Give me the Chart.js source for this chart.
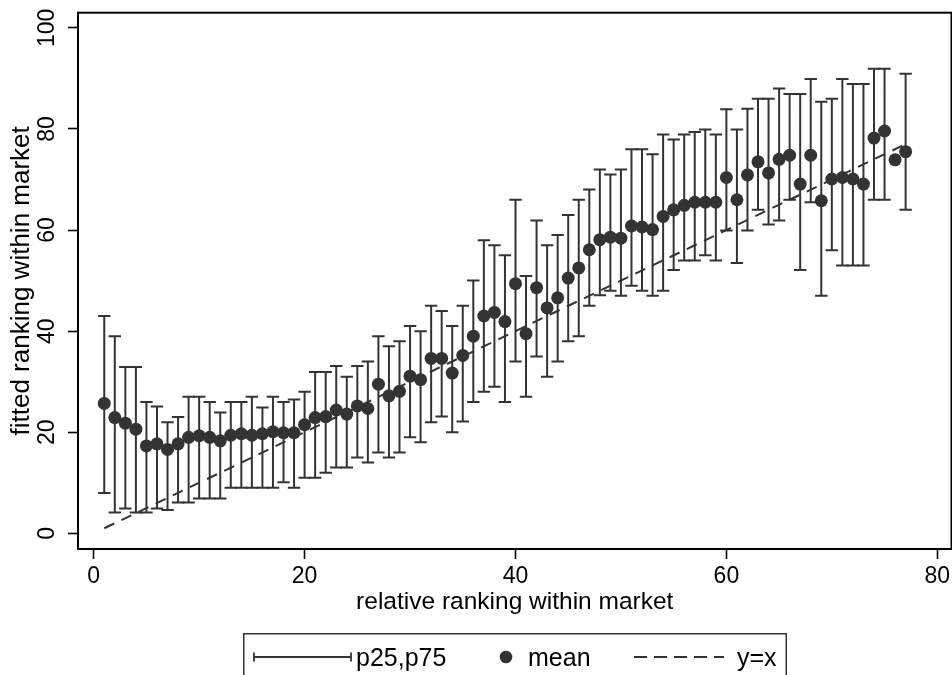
<!DOCTYPE html>
<html>
<head>
<meta charset="utf-8">
<script src="https://cdn.jsdelivr.net/npm/chart.js@4.4.0/dist/chart.umd.min.js"></script>
<style>
  html, body { margin: 0; padding: 0; background: #fff; overflow: hidden; }
  #wrap { position: relative; width: 952px; height: 675px; }
  #legend { position: absolute; left: 243px; top: 633px; width: 544px; height: 60px;
            font-family: 'Liberation Sans', Arial, Helvetica, sans-serif; font-size: 25px; color: #000; }
  #legend svg { position: absolute; left: 0; top: 0; }
  #legend span { position: absolute; top: 12px; line-height: 25px; white-space: nowrap; }
</style>
</head>
<body>
<div id="wrap">
  <canvas id="chart" width="952" height="675"></canvas>
  <div id="legend">
    <svg width="544" height="60">
      <rect x="0.75" y="0.75" width="542.5" height="62" fill="none" stroke="#333" stroke-width="1.5"/>
      <line x1="11" y1="24" x2="108" y2="24" stroke="#333" stroke-width="1.8"/>
      <line x1="11" y1="19.5" x2="11" y2="28.5" stroke="#333" stroke-width="1.8"/>
      <line x1="108" y1="19.5" x2="108" y2="28.5" stroke="#333" stroke-width="1.8"/>
      <circle cx="263" cy="24" r="6.3" fill="#333"/>
      <line x1="391" y1="24" x2="481" y2="24" stroke="#333" stroke-width="1.8" stroke-dasharray="13 7"/>
    </svg>
    <span style="left:113px">p25,p75</span>
    <span style="left:285px">mean</span>
    <span style="left:494px">y=x</span>
  </div>
</div>
<script>
'use strict';

// ── Datos ────────────────────────────────────────────────
const ranks = [1, 2, 3, 4, 5, 6, 7, 8, 9, 10, 11, 12, 13, 14, 15, 16, 17, 18, 19, 20,
               21, 22, 23, 24, 25, 26, 27, 28, 29, 30, 31, 32, 33, 34, 35, 36, 37, 38, 39, 40,
               41, 42, 43, 44, 45, 46, 47, 48, 49, 50, 51, 52, 53, 54, 55, 56, 57, 58, 59, 60,
               61, 62, 63, 64, 65, 66, 67, 68, 69, 70, 71, 72, 73, 74, 75, 76, 77];

const meanRank = [25.7, 22.9, 21.8, 20.6, 17.3, 17.7, 16.6, 17.7, 19.0, 19.3,
                  19.0, 18.3, 19.4, 19.7, 19.4, 19.7, 20.1, 19.9, 19.9, 21.5,
                  22.9, 23.1, 24.4, 23.6, 25.2, 24.7, 29.5, 27.2, 28.1, 31.1,
                  30.4, 34.6, 34.6, 31.7, 35.2, 39.0, 43.0, 43.7, 41.9, 49.4,
                  39.5, 48.6, 44.6, 46.6, 50.5, 52.5, 56.1, 58.1, 58.6, 58.4,
                  60.8, 60.6, 60.1, 62.7, 64.0, 64.9, 65.5, 65.5, 65.5, 70.4,
                  66.0, 70.9, 73.5, 71.3, 74.0, 74.8, 69.1, 74.8, 65.8, 70.1,
                  70.4, 70.1, 69.1, 78.2, 79.6, 73.9, 75.5];

const p75Rank = [43.0, 39.0, 32.9, 32.9, 26.0, 25.1, 22.0, 23.0, 27.0, 27.0,
                 26.0, 23.9, 26.0, 26.0, 27.0, 24.9, 27.0, 26.0, 26.5, 28.0,
                 31.9, 31.9, 33.1, 31.0, 33.1, 34.0, 39.0, 37.0, 38.0, 41.0,
                 40.0, 45.0, 44.0, 41.0, 45.0, 50.0, 58.0, 57.0, 55.0, 66.0,
                 50.9, 61.9, 57.0, 59.0, 63.0, 66.0, 68.0, 72.0, 71.0, 72.0,
                 76.0, 76.0, 75.0, 78.9, 77.9, 78.9, 79.4, 79.9, 78.9, 83.9,
                 79.9, 84.0, 86.0, 86.0, 88.0, 86.9, 86.9, 89.9, 85.4, 86.0,
                 89.9, 88.9, 88.9, 91.9, 91.9, null, 90.9];

const p25Rank = [8.0, 4.1, 4.9, 4.1, 4.1, 4.9, 4.6, 6.1, 6.1, 6.9,
                 6.9, 6.9, 9.0, 9.0, 9.0, 9.0, 9.0, 10.1, 9.0, 11.0,
                 11.0, 12.0, 13.0, 13.0, 15.0, 14.0, 16.0, 15.0, 16.0, 19.0,
                 18.0, 22.0, 23.1, 20.0, 22.1, 26.0, 28.0, 29.0, 26.0, 34.0,
                 27.0, 35.0, 31.0, 34.0, 38.0, 39.0, 45.0, 47.1, 48.0, 47.0,
                 49.0, 48.0, 47.0, 48.0, 52.1, 54.0, 54.0, 55.0, 54.0, 59.9,
                 53.5, 59.9, 64.0, 61.1, 61.9, 66.0, 52.1, 65.5, 47.0, 56.0,
                 53.0, 53.0, 53.0, 66.0, 66.0, null, 64.0];

const diagEnds = [1, 77];
const xTicks = [0, 20, 40, 60, 80];
const yTicks = [0, 20, 40, 60, 80, 100];

// ── Puntos para Chart.js ─────────────────────────────────
const meanPts = ranks.map((x, i) => ({ x, y: meanRank[i] }));
const barPts = [];
ranks.forEach((x, i) => {
    if (p25Rank[i] == null) return;
    barPts.push({ x, y: p25Rank[i] }, { x, y: p75Rank[i] }, { x, y: null });
});
const diagPts = diagEnds.map(v => ({ x: v, y: v }));

const FONT = "'Liberation Sans', Arial, Helvetica, sans-serif";
const INK = '#333333';

// ── Marco completo estilo Stata ──────────────────────────
const framePlugin = {
    id: 'frame',
    afterDraw(chart) {
        const { ctx, chartArea: a } = chart;
        ctx.save();
        ctx.strokeStyle = '#000';
        ctx.lineWidth = 2;
        ctx.strokeRect(a.left, a.top, a.right - a.left, a.bottom - a.top);
        ctx.restore();
    }
};

const tickGrid = {
    display: true, drawOnChartArea: false, drawTicks: true,
    tickLength: 10, tickWidth: 1.6, tickColor: '#000'
};

new Chart(document.getElementById('chart'), {
    type: 'scatter',
    data: {
        datasets: [
            {
                label: 'mean', data: meanPts, order: 0,
                pointRadius: 6.5, pointBackgroundColor: INK, pointBorderWidth: 0
            },
            {
                label: 'y=x', type: 'line', data: diagPts, order: 1,
                borderColor: INK, borderWidth: 2, borderDash: [11, 8], pointRadius: 0, fill: false
            },
            {
                label: 'p25,p75', type: 'line', data: barPts, order: 2, spanGaps: false,
                borderColor: INK, borderWidth: 2, fill: false,
                pointStyle: 'line', pointRadius: 6.2, pointBorderWidth: 2, pointBorderColor: INK
            }
        ]
    },
    options: {
        responsive: false,
        animation: false,
        events: [],
        layout: { autoPadding: false, padding: { top: 12.7, left: 0, right: 0.5, bottom: 46 } },
        plugins: { legend: { display: false }, tooltip: { enabled: false } },
        scales: {
            x: {
                type: 'linear', min: -1.49, max: 81.35,
                afterBuildTicks: s => { s.ticks = xTicks.map(v => ({ value: v })); },
                afterFit: s => { s.height = 80; s.paddingLeft = 0; s.paddingRight = 0; },
                grid: tickGrid,
                border: { display: false },
                ticks: { padding: 4, color: '#000', autoSkip: false, maxRotation: 0,
                         font: { family: FONT, size: 23 } },
                title: { display: true, text: 'relative ranking within market', color: '#000',
                         font: { family: FONT, size: 24.5 }, padding: { top: 0, bottom: 12 } }
            },
            y: {
                type: 'linear', min: -3.1, max: 103,
                afterBuildTicks: s => { s.ticks = yTicks.map(v => ({ value: v })); },
                afterFit: s => { s.width = 78; s.paddingTop = 0; s.paddingBottom = 0; },
                grid: tickGrid,
                border: { display: false },
                ticks: { padding: 1, color: '#000', autoSkip: false, minRotation: 90, maxRotation: 90,
                         crossAlign: 'center', font: { family: FONT, size: 23 } },
                title: { display: true, text: 'fitted ranking within market', color: '#000',
                         font: { family: FONT, size: 26 }, padding: { top: 6.4, bottom: 0 } }
            }
        }
    },
    plugins: [framePlugin]
});
</script>
</body>
</html>
